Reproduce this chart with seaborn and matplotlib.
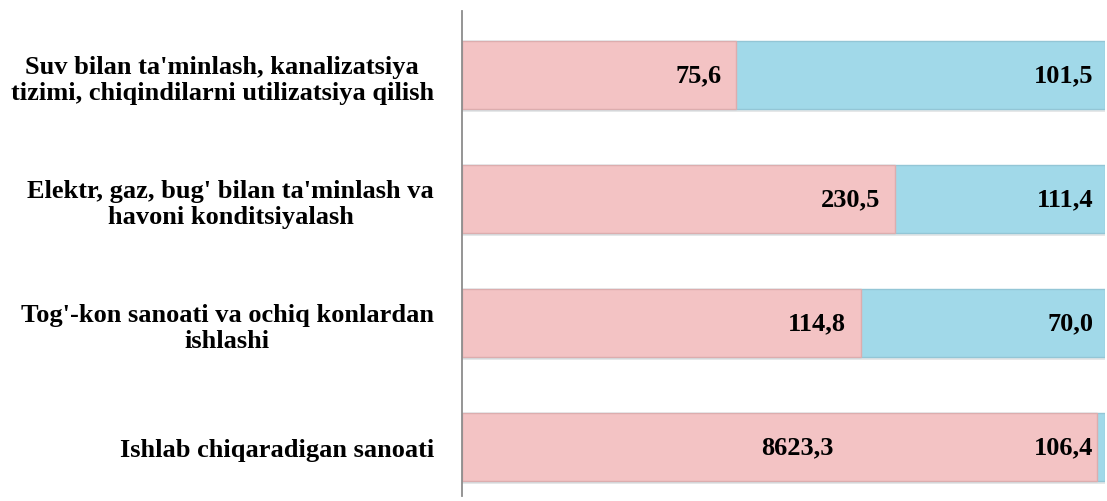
import matplotlib.pyplot as plt
import matplotlib.patheffects as pe
import pandas as pd
import numpy as np
import seaborn as sns

# Categories (top to bottom) and the two series
categories = [
    "Suv bilan ta'minlash, kanalizatsiya\ntizimi, chiqindilarni utilizatsiya qilish",
    "Elektr, gaz, bug' bilan ta'minlash va\nhavoni konditsiyalash",
    "Tog'-kon sanoati va ochiq konlardan\nishlashi",
    "Ishlab chiqaradigan sanoati",
]
pink_vals = [75.6, 230.5, 114.8, 8623.3]
blue_vals = [101.5, 111.4, 70.0, 106.4]

pink_col = '#F3C3C4'
blue_col = '#A1D9E9'

df = pd.DataFrame({'cat': categories, 'pink': pink_vals, 'blue': blue_vals})
df['total'] = df['pink'] + df['blue']
df['pink_pct'] = df['pink'] / df['total'] * 100
df['full'] = 100.0

sns.set_style("white")
plt.rcParams['font.family'] = ['Liberation Serif', 'DejaVu Serif']

fig = plt.figure(figsize=(11.07, 5.02), dpi=100)
ax = fig.add_axes([0.417, 0.01, 0.581, 0.966])

# Full bar in blue, pink share drawn over it (100% stacked)
sns.barplot(data=df, y='cat', x='full', color=blue_col, orient='h', width=0.55,
            edgecolor='#93c6d6', linewidth=1.0, ax=ax, saturation=1)
# soft shadow under the whole bar
for p in ax.patches:
    p.set_path_effects([pe.SimplePatchShadow(offset=(0, -2), alpha=0.12),
                        pe.Normal()])
sns.barplot(data=df, y='cat', x='pink_pct', color=pink_col, orient='h', width=0.55,
            edgecolor='#dcadae', linewidth=1.0, ax=ax, saturation=1)

fmt = lambda v: f"{v:.1f}".replace('.', ',')
for i, row in df.iterrows():
    if row['pink_pct'] > 95:
        # very large share: label sits near the middle of the bar
        ax.text(row['pink_pct'] / 2 + 2.8, i, fmt(row['pink']), ha='center',
                va='center', fontsize=19, fontweight='bold', color='black')
    else:
        ax.text(row['pink_pct'] - 2.3, i, fmt(row['pink']), ha='right',
                va='center', fontsize=19, fontweight='bold', color='black')
    ax.text(100 - 1.8, i, fmt(row['blue']), ha='right', va='center',
            fontsize=19, fontweight='bold', color='black')

ax.set_xlim(0, 100)
ax.set_ylim(3.395, -0.516)
ax.set_xlabel('')
ax.set_ylabel('')
ax.set_xticks([])
for s in ['top', 'right', 'bottom']:
    ax.spines[s].set_visible(False)
ax.spines['left'].set_color('#8c8c8c')
ax.spines['left'].set_linewidth(1.3)
ax.tick_params(axis='y', length=0, pad=20)
for lab in ax.get_yticklabels():
    lab.set_fontsize(19)
    lab.set_fontweight('bold')
    lab.set_color('black')
    lab.set_multialignment('center')

plt.savefig('out.png', dpi=100)
